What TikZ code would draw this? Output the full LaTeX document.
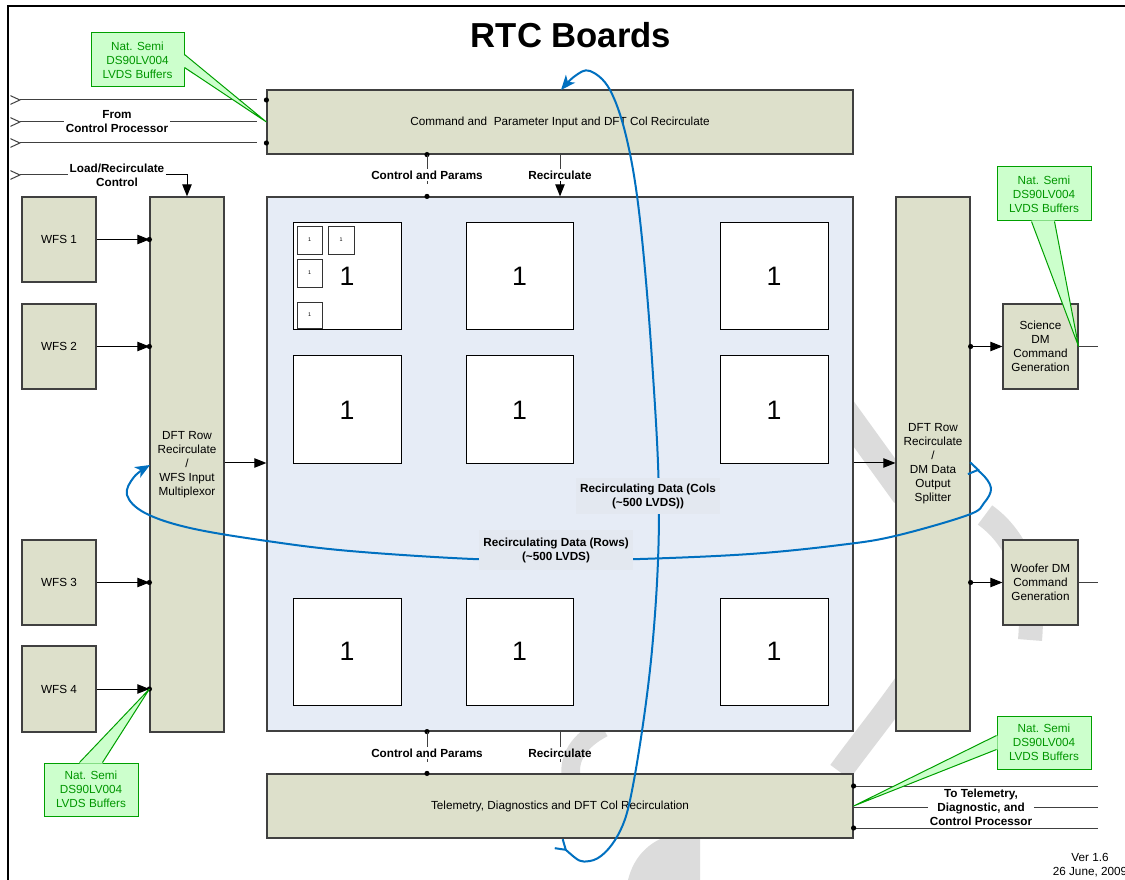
\documentclass[tikz,border=0pt]{standalone}
\usepackage{fontspec}
\setmainfont{Liberation Sans}
\usetikzlibrary{arrows.meta,calc}
\definecolor{boxfill}{RGB}{221,224,203}
\definecolor{boxline}{RGB}{64,64,64}
\definecolor{midfill}{RGB}{230,236,246}
\definecolor{lblfill}{RGB}{227,232,240}
\definecolor{callfill}{RGB}{204,255,204}
\definecolor{callline}{RGB}{0,160,0}
\definecolor{calltext}{RGB}{0,150,0}
\definecolor{loopblue}{RGB}{0,112,192}
\definecolor{wmgray}{RGB}{220,220,220}
\newcommand\bx[7]{\node[#6, minimum width={(#4-#2)*0.75pt}, minimum height={(#5-#3)*0.75pt}] (#1) at ({(#2+#4)/2},{(#3+#5)/2}) {#7};}
\begin{document}
\begin{tikzpicture}[x=0.75pt,y=-0.75pt,
  every node/.style={font=\fontsize{8.8}{10.5}\selectfont},
  blk/.style={draw=boxline, line width=0.9pt, fill=boxfill, inner sep=0pt, align=center},
  midbox/.style={draw=boxline, line width=0.9pt, fill=midfill, inner sep=0pt},
  tile/.style={draw=black, line width=0.75pt, fill=white, inner sep=0pt, font=\fontsize{20}{24}\selectfont},
  mini/.style={draw=black!80, line width=0.6pt, fill=white, inner sep=0pt, font=\fontsize{4}{5}\selectfont},
  feed/.style={draw=boxline, line width=0.75pt},
  arr/.style={draw=black, line width=0.75pt, -{Triangle[length=9pt,width=7pt]}},
  chevin/.style={{Straight Barb[reversed,length=7pt,width=6.5pt]}-},
  blab/.style={font=\fontsize{8.8}{10.5}\selectfont\bfseries, align=center, inner sep=1pt},
  callout/.style={draw=callline, line width=0.75pt, fill=callfill, inner sep=0pt, align=center, text=calltext},
  loopc/.style={draw=loopblue, line width=1.5pt},
  dotc/.style={fill=black},
  wm/.style={draw=wmgray, line cap=butt},
]
\useasboundingbox (0,0) rectangle (1125,880);
\fill[white] (0,0) rectangle (1125,880);

% faint watermark fragments (behind everything)
\draw[wm, line width=20pt] (840,405) -- (905,495);
\draw[wm, line width=18pt] (985,515) .. controls (1020,540) and (1035,585) .. (1030,640);
\draw[wm, line width=18pt] (905,685) .. controls (880,720) and (862,742) .. (840,772);
\draw[wm, line width=14pt] (572,782) .. controls (566,758) and (580,740) .. (603,728);
\fill[wmgray] (628,880) .. controls (634,856) and (650,838) .. (682,832) -- (700,832) -- (700,880) -- cycle;

% frame
\draw[line width=1.5pt] (8,880) -- (8,6) -- (1125,6);

% title
\node[font=\fontsize{26}{30}\selectfont\bfseries] (title) at (571,35) {RTC Boards};

% main boxes
\bx{top}{267}{90}{853}{154}{blk}{Command and\ \ Parameter Input and DFT Col Recirculate}
\bx{bot}{267}{774}{853}{838}{blk}{Telemetry, Diagnostics and DFT Col Recirculation}
\bx{mid}{267}{197}{853}{731}{midbox}{}
\bx{left}{150}{197}{224}{732}{blk}{DFT Row\\Recirculate\\/\\WFS Input\\Multiplexor}
\bx{right}{896}{197}{970}{731}{blk}{DFT Row\\Recirculate\\/\\DM Data\\Output\\Splitter}
\bx{wfs1}{22}{197}{96}{282}{blk}{WFS 1}
\bx{wfs2}{22}{304}{96}{389}{blk}{WFS 2}
\bx{wfs3}{22}{540}{96}{625}{blk}{WFS 3}
\bx{wfs4}{22}{646}{96}{732}{blk}{WFS 4}
\bx{sci}{1003}{304}{1078}{389}{blk}{Science\\DM\\Command\\Generation}
\bx{woof}{1003}{540}{1078}{625}{blk}{Woofer DM\\Command\\Generation}

% tiles
\bx{t11}{293}{223}{401}{330}{tile}{1}
\bx{t12}{466}{223}{573}{330}{tile}{1}
\bx{t13}{720}{223}{828}{330}{tile}{1}
\bx{t21}{293}{356}{401}{464}{tile}{1}
\bx{t22}{466}{356}{573}{464}{tile}{1}
\bx{t23}{720}{356}{828}{464}{tile}{1}
\bx{t31}{293}{598}{401}{705}{tile}{1}
\bx{t32}{466}{598}{573}{705}{tile}{1}
\bx{t33}{720}{598}{828}{705}{tile}{1}
\bx{s1}{297}{226}{322}{254}{mini}{1}
\bx{s2}{328}{226}{354}{254}{mini}{1}
\bx{s3}{297}{259}{322}{287}{mini}{1}
\bx{s4}{297}{302}{322}{328}{mini}{1}

% inputs from control processor
\coordinate (in1) at (10,100); \coordinate (in1e) at (257,100);
\coordinate (in2) at (10,122); \coordinate (in2e) at (257,122);
\coordinate (in3) at (10,143); \coordinate (in3e) at (257,143);
\coordinate (in4) at (10,175);
\node[blab] (fcp) at (117,122) {From\\Control Processor};
\node[blab] (lrc) at (117,175) {Load/Recirculate\\Control};
\draw[feed, chevin] (in1) -- (in1e);
\draw[feed, chevin] (in2) -- (fcp.west);
\draw[feed] (fcp.east) -- (in2e);
\draw[feed, chevin] (in3) -- (in3e);
\fill[dotc] (top.west |- in1) circle (2.6);
\fill[dotc] (top.west |- in3) circle (2.6);
\draw[feed, chevin] (in4) -- (lrc.west);
\draw[arr] (lrc.east) -| (left.north);

% WFS arrows
\foreach \w in {wfs1,wfs2,wfs3,wfs4}{
  \draw[arr] (\w.east) -- (\w.east -| left.west);
  \fill[dotc] (\w.east -| left.west) circle (2.6);
}
% mux to array to splitter
\draw[arr] (left.east |- 0,463) -- (mid.west |- 0,463);
\draw[arr] (mid.east |- 0,463) -- (right.west |- 0,463);
% splitter to DM boxes
\draw[arr] (right.east |- sci.west) -- (sci.west);
\fill[dotc] (right.east |- sci.west) circle (2.6);
\draw[arr] (right.east |- woof.west) -- (woof.west);
\fill[dotc] (right.east |- woof.west) circle (2.6);
\coordinate (scio) at (1098,346.5);
\coordinate (woofo) at (1098,582.5);
\draw[feed] (sci.east) -- (scio);
\draw[feed] (woof.east) -- (woofo);

% control and params / recirculate, top
\node[blab] (cp1) at (427,175) {Control and Params};
\node[blab] (rc1) at (560,175) {Recirculate};
\fill[dotc] (top.south -| cp1) circle (2.6);
\draw[feed] (top.south -| cp1) -- (cp1.north);
\draw[feed] (cp1.south) -- ++(0,3);
\fill[dotc] (mid.north -| cp1) circle (2.6);
\draw[feed] (top.south -| rc1) -- (rc1.north);
\draw[arr] (rc1.south) -- (mid.north -| rc1);
% bottom
\node[blab] (cp2) at (427,753) {Control and Params};
\node[blab] (rc2) at (560,753) {Recirculate};
\fill[dotc] (mid.south -| cp2) circle (2.6);
\draw[feed] (mid.south -| cp2) -- (cp2.north);
\draw[feed] (cp2.south) -- ++(0,3);
\fill[dotc] (bot.north -| cp2) circle (2.6);
\draw[feed] (mid.south -| rc2) -- (rc2.north);
\draw[feed] (rc2.south) -- ++(0,3);

% outputs to telemetry
\coordinate (o1) at (1098,786);
\coordinate (o2) at (1098,807);
\coordinate (o3) at (1098,828);
\node[blab] (tt) at (981,807) {To Telemetry,\\Diagnostic, and\\Control Processor};
\draw[feed] (bot.east |- o1) -- (o1);
\draw[feed] (bot.east |- o2) -- (tt.west);
\draw[feed] (tt.east) -- (o2);
\draw[feed] (bot.east |- o3) -- (o3);
\fill[dotc] (bot.east |- o1) circle (2.6);
\fill[dotc] (bot.east |- o3) circle (2.6);

% blue recirculation loops
\coordinate (vs) at (558,843);
\coordinate (ve) at (561,90);
\draw[loopc, {Straight Barb[reversed,length=7pt,width=9pt]}-{Stealth[length=11pt,width=9pt,inset=3pt]}]
  plot[smooth, tension=0.6] coordinates {(vs) (590,861) (618,835) (634,780) (652,650) (659,510) (652,360) (640,220) (627,140) (610,90) (590,71) (575,76) (ve)};
\coordinate (hs) at (968,468);
\coordinate (he) at (150,465);
\draw[loopc, {Straight Barb[reversed,length=7pt,width=9pt]}-{Stealth[length=11pt,width=9pt,inset=3pt]}]
  plot[smooth, tension=0.6] coordinates {(hs) (981,473) (991,488) (984,503) (968,515) (895,536) (840,545) (750,554) (640,559) (560,560) (473,559) (350,551) (267,541) (190,528) (145,513) (127,495) (134,477) (he)};

% loop labels
\node[blab, fill=lblfill, inner xsep=3pt, inner ysep=4pt] (cols) at (648,496) {Recirculating Data (Cols\\(\textasciitilde 500 LVDS))};
\node[blab, fill=lblfill, inner xsep=3pt, inner ysep=6pt] (rows) at (556,550) {Recirculating Data (Rows)\\(\textasciitilde 500 LVDS)};

% callouts
\bx{c1}{91}{33}{184}{87}{callout}{Nat. Semi\\DS90LV004\\LVDS Buffers}
\fill[callfill] ($(c1.north east)+(-1,22)$) -- (top.west) -- ($(c1.north east)+(-1,35)$) -- cycle;
\draw[callline, line width=0.75pt] ($(c1.north east)+(0,22)$) -- (top.west) -- ($(c1.north east)+(0,35)$);

\bx{c2}{997}{167}{1091}{221}{callout}{Nat. Semi\\DS90LV004\\LVDS Buffers}
\fill[callfill] ($(c2.south west)+(35,-1)$) -- (sci.east) -- ($(c2.south west)+(58,-1)$) -- cycle;
\draw[callline, line width=0.75pt] ($(c2.south west)+(35,0)$) -- (sci.east) -- ($(c2.south west)+(58,0)$);

\bx{c3}{44}{763}{138}{816}{callout}{Nat. Semi\\DS90LV004\\LVDS Buffers}
\fill[callfill] ($(c3.north west)+(36,1)$) -- (wfs4.east -| left.west) -- ($(c3.north west)+(59,1)$) -- cycle;
\draw[callline, line width=0.75pt] ($(c3.north west)+(36,0)$) -- (wfs4.east -| left.west) -- ($(c3.north west)+(59,0)$);

\bx{c4}{997}{716}{1091}{769}{callout}{Nat. Semi\\DS90LV004\\LVDS Buffers}
\fill[callfill] ($(c4.north west)+(1,20)$) -- (bot.east) -- ($(c4.north west)+(1,34)$) -- cycle;
\draw[callline, line width=0.75pt] ($(c4.north west)+(0,20)$) -- (bot.east) -- ($(c4.north west)+(0,34)$);

% version
\node[align=center] (ver) at (1090,865) {Ver 1.6\\26 June, 2009};
\end{tikzpicture}
\end{document}
